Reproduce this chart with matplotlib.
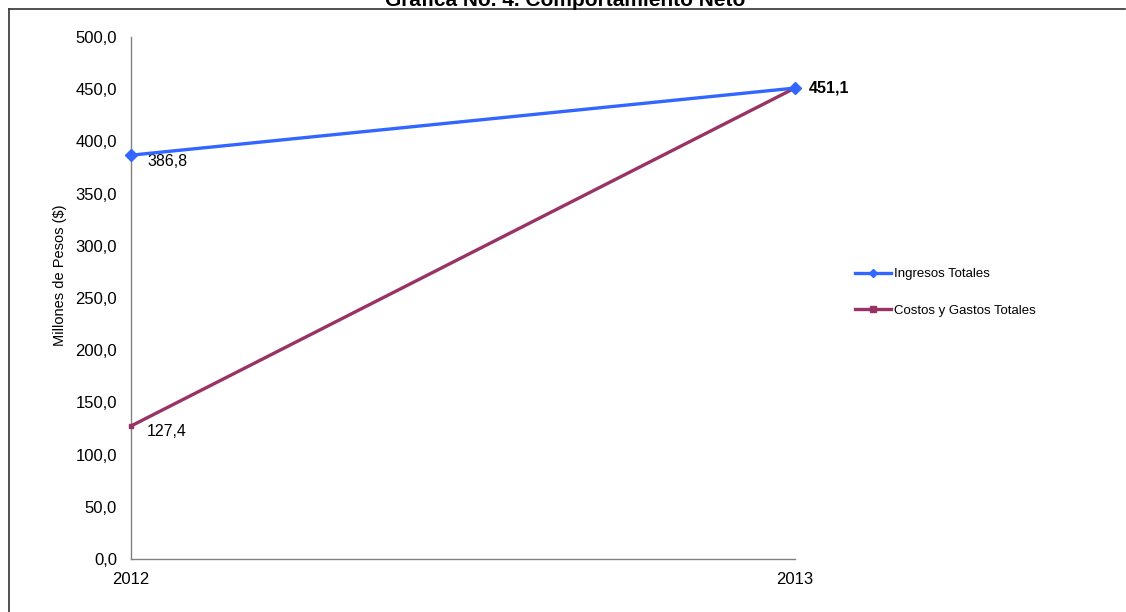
import matplotlib.pyplot as plt
from matplotlib.lines import Line2D

plt.rcParams['font.family'] = ['Liberation Sans', 'DejaVu Sans']

years = [2012, 2013]
ingresos = [386.8, 451.1]
costos = [127.4, 451.1]
y_ticks = [0, 50, 100, 150, 200, 250, 300, 350, 400, 450, 500]
series_names = ['Ingresos Totales', 'Costos y Gastos Totales']

W, H = 1126, 612
fig = plt.figure(figsize=(W / 100, H / 100), dpi=100)
ax = fig.add_axes([131 / W, 1 - 559 / H, (795 - 131) / W, (559 - 37) / H])

blue = '#3366ff'
purple = '#993366'

ax.plot(years, ingresos, color=blue, lw=2.4, marker='D', ms=6,
        label=series_names[0], clip_on=False, zorder=4)
ax.plot(years, costos, color=purple, lw=2.4, marker='s', ms=3,
        label=series_names[1], clip_on=False, zorder=3)

# etiquetas de datos
ax.annotate(f"{ingresos[0]:.1f}".replace('.', ','), (years[0], ingresos[0]),
            xytext=(16, -6), textcoords='offset pixels', fontsize=11.5, va='center')
ax.annotate(f"{costos[0]:.1f}".replace('.', ','), (years[0], costos[0]),
            xytext=(16, -6), textcoords='offset pixels', fontsize=11.5, va='center')
ax.annotate(f"{ingresos[1]:.1f}".replace('.', ','), (years[1], ingresos[1]),
            xytext=(14, 0), textcoords='offset pixels', fontsize=11.5,
            fontweight='bold', va='center')

ax.set_xlim(years[0], years[1])
ax.set_ylim(0, 500)
ax.set_xticks(years)
ax.set_xticklabels([str(y) for y in years], fontsize=12)
ax.set_yticks(y_ticks)
ax.set_yticklabels([f"{v:.1f}".replace('.', ',') for v in y_ticks], fontsize=12)
ax.tick_params(length=0, pad=10)
ax.tick_params(axis='x', pad=9)
for s in ['top', 'right']:
    ax.spines[s].set_visible(False)
for s in ['left', 'bottom']:
    ax.spines[s].set_color('#808080')
    ax.spines[s].set_linewidth(1)
ax.set_ylabel('Millones de Pesos ($)', fontsize=10.5)
ax.yaxis.set_label_coords((67 - 131) / 664, (559 - 275) / 522)

handles = [
    Line2D([], [], color=blue, lw=2.4, marker='D', ms=4),
    Line2D([], [], color=purple, lw=2.4, marker='s', ms=5),
]
fig.legend(handles, series_names, loc='upper left',
           bbox_to_anchor=(855 / W, 1 - 268 / H), frameon=False,
           fontsize=9.5, labelspacing=1.85, handlelength=2.7, handletextpad=0.25,
           borderpad=0, borderaxespad=0)

# marco exterior
fig.add_artist(Line2D([9 / W, 1125 / W], [1 - 9 / H, 1 - 9 / H], color='#333333', lw=1.2))
fig.add_artist(Line2D([9 / W, 9 / W], [0, 1 - 9 / H], color='#333333', lw=1.2))

fig.text(565 / W, 1 - 6 / H, 'Gráfica No. 4. Comportamiento Neto', ha='center',
         va='baseline', fontsize=15, fontweight='bold')

fig.savefig('out.png', dpi=100)
